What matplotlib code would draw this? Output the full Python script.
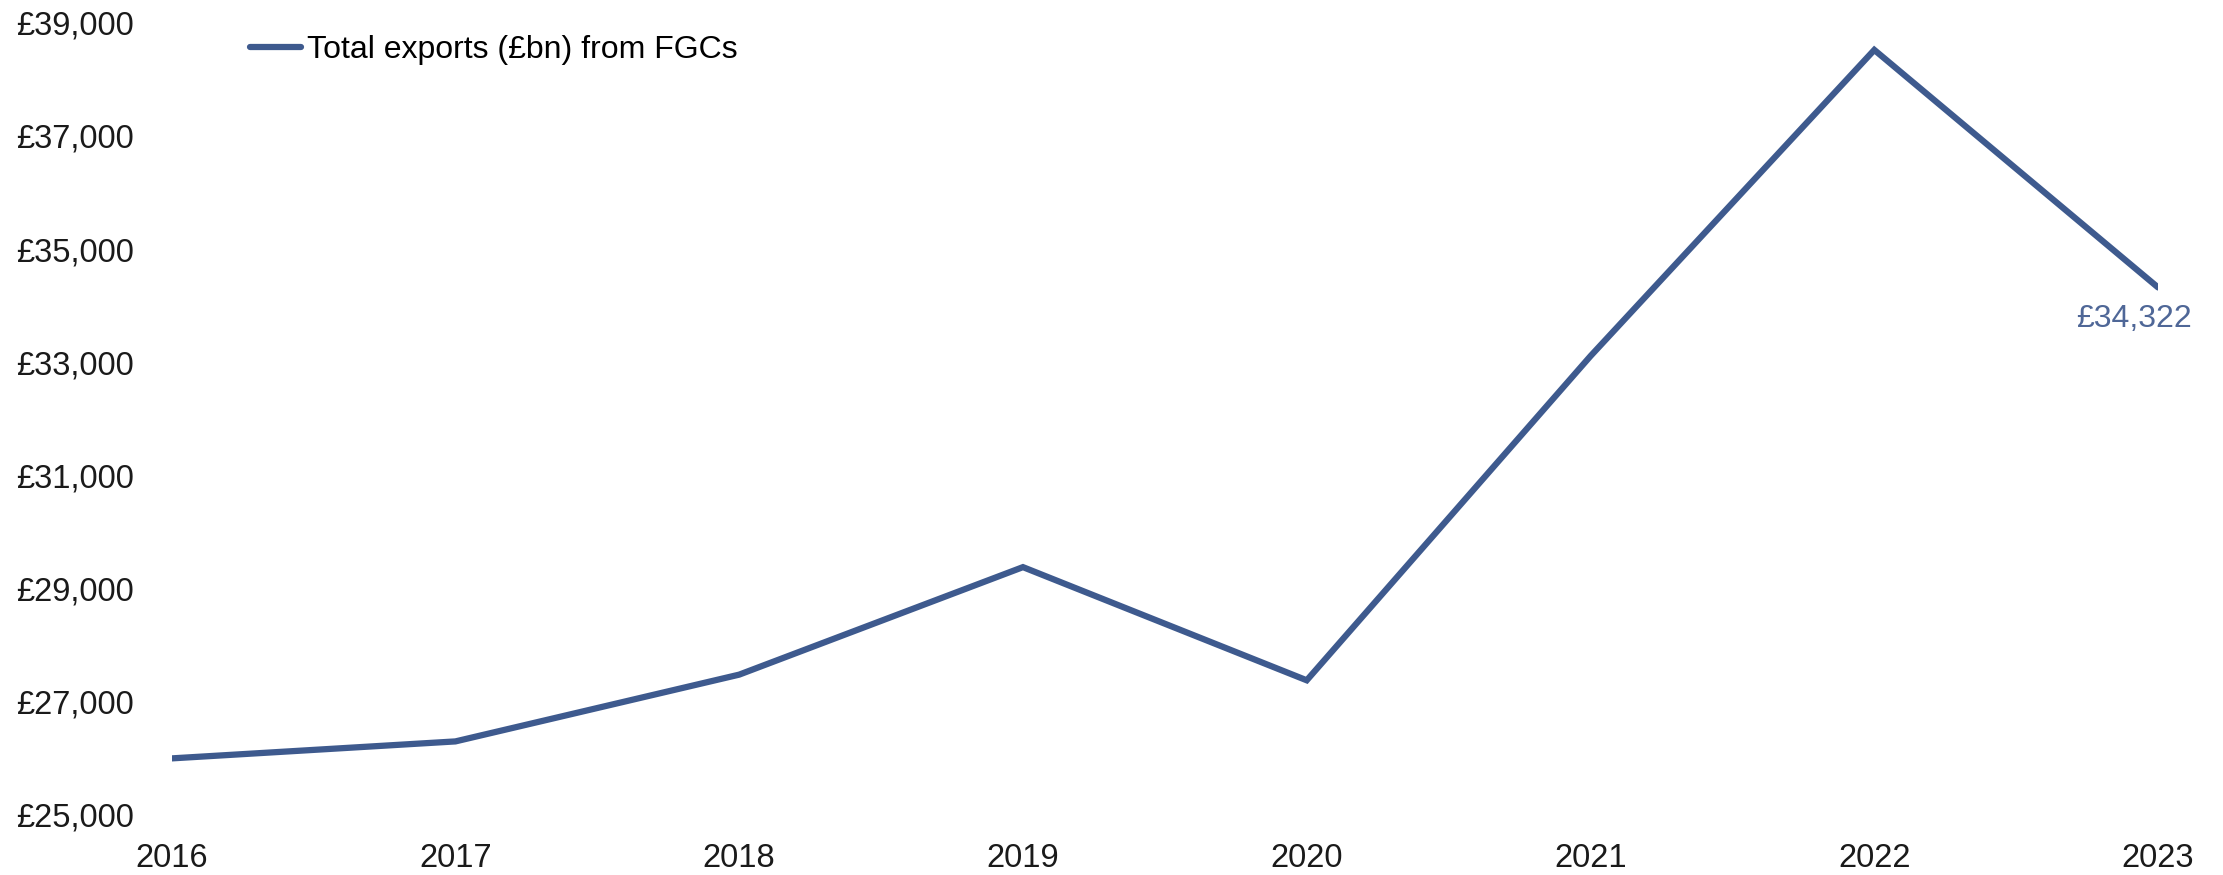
import matplotlib
matplotlib.use("Agg")
import matplotlib.pyplot as plt
from matplotlib.ticker import FuncFormatter

years = [2016, 2017, 2018, 2019, 2020, 2021, 2022, 2023]
exports = [26000, 26300, 27480, 29380, 27380, 33110, 38520, 34322]
y_ticks = [25000, 27000, 29000, 31000, 33000, 35000, 37000, 39000]
series_name = "Total exports (£bn) from FGCs"

line_col = "#3E5A8E"
label_col = "#4F6797"

plt.rcParams['font.family'] = ['Liberation Sans', 'DejaVu Sans']

fig = plt.figure(figsize=(22.23, 8.75), dpi=100)
ax = fig.add_axes([0.0772, 0.0686, 0.8936, 0.9054])

ax.plot(years, exports, color=line_col, lw=4.5, solid_capstyle='round',
        solid_joinstyle='miter', label=series_name)

ax.set_xlim(years[0], years[-1])
ax.set_ylim(y_ticks[0], y_ticks[-1])
ax.set_xticks(years)
ax.set_yticks(y_ticks)
ax.yaxis.set_major_formatter(FuncFormatter(lambda v, p: f"£{v:,.0f}"))
ax.tick_params(axis='y', length=0, pad=27, labelsize=23.5, colors='#1a1a1a')
ax.tick_params(axis='x', length=0, pad=20, labelsize=23.5, colors='#1a1a1a')
for s in ax.spines.values():
    s.set_visible(False)

# value tag on the last point
ax.annotate(f"£{exports[-1]:,}", xy=(years[-1], exports[-1]),
            xytext=(-17, -23), textcoords='offset points',
            ha='center', va='center', fontsize=23, color=label_col,
            annotation_clip=False)

leg = ax.legend(loc='upper left', bbox_to_anchor=(0.028, 1.013), frameon=False,
                fontsize=23, handlelength=1.6, handletextpad=0.2,
                borderaxespad=0.3)

fig.savefig("out.png", dpi=100)
